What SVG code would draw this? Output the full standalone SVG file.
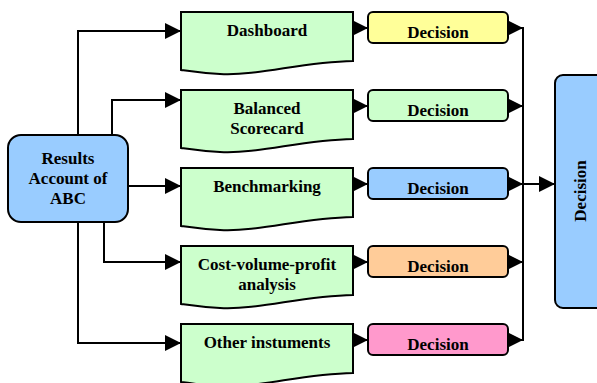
<svg xmlns="http://www.w3.org/2000/svg" width="597" height="383" viewBox="0 0 597 383">
<defs>
<marker id="ah" viewBox="0 0 16 16" refX="16" refY="8" markerWidth="16" markerHeight="16" markerUnits="userSpaceOnUse" orient="auto">
<path d="M0,0 L16,8 L0,16 Z" fill="#000"/>
</marker>
<style>
.doc{fill:#ccffcc;stroke:#000;stroke-width:2}
.box{stroke:#000;stroke-width:2}
.t{font-family:"Liberation Serif","Times New Roman",serif;font-weight:bold;font-size:17px;fill:#000;text-anchor:middle}
.td{font-family:"Liberation Serif","Times New Roman",serif;font-weight:bold;font-size:17px;fill:#000;text-anchor:middle}
.c{fill:none;stroke:#000;stroke-width:2}
</style>
</defs>
<rect width="597" height="383" fill="#fff"/>
<g id="connectors">
<path class="c" d="M78,135 V31 H181" marker-end="url(#ah)"/>
<path class="c" d="M112,135 V100 H181" marker-end="url(#ah)"/>
<path class="c" d="M128,186 H181" marker-end="url(#ah)"/>
<path class="c" d="M104,222 V262 H181" marker-end="url(#ah)"/>
<path class="c" d="M78,222 V343 H181" marker-end="url(#ah)"/>
<path class="c" d="M353,28 H368" marker-end="url(#ah)"/>
<path class="c" d="M353,106 H368" marker-end="url(#ah)"/>
<path class="c" d="M353,184 H368" marker-end="url(#ah)"/>
<path class="c" d="M353,262 H368" marker-end="url(#ah)"/>
<path class="c" d="M353,340 H368" marker-end="url(#ah)"/>
<path class="c" d="M508,28 H523" marker-end="url(#ah)"/>
<path class="c" d="M508,106 H523" marker-end="url(#ah)"/>
<path class="c" d="M508,184 H523" marker-end="url(#ah)"/>
<path class="c" d="M508,262 H523" marker-end="url(#ah)"/>
<path class="c" d="M508,340 H523" marker-end="url(#ah)"/>
<path class="c" d="M523,27 V341"/>
<path class="c" d="M523,184 H555" marker-end="url(#ah)"/>
</g>
<g id="results">
<rect class="box" x="8" y="135" width="120" height="87" rx="13" fill="#99ccff"/>
<text class="t" x="68" y="164">Results</text>
<text class="t" x="68" y="184">Account of</text>
<text class="t" x="68" y="204">ABC</text>
</g>
<g id="dashboard">
<path class="doc" d="M181,12 H353 V61 C300,62 260,76 220,74 C200,73 188,71 181,70 Z"/>
<text class="t" x="267" y="36">Dashboard</text>
</g>
<g id="balanced">
<path class="doc" d="M181,90 H353 V139 C300,140 260,154 220,152 C200,151 188,149 181,148 Z"/>
<text class="t" x="267" y="114">Balanced</text>
<text class="t" x="267" y="134">Scorecard</text>
</g>
<g id="benchmarking">
<path class="doc" d="M181,168 H353 V217 C300,218 260,232 220,230 C200,229 188,227 181,226 Z"/>
<text class="t" x="267" y="192">Benchmarking</text>
</g>
<g id="cvp">
<path class="doc" d="M181,246 H353 V295 C300,296 260,310 220,308 C200,307 188,305 181,304 Z"/>
<text class="t" x="267" y="270">Cost-volume-profit</text>
<text class="t" x="267" y="290">analysis</text>
</g>
<g id="other">
<path class="doc" d="M181,324 H353 V373 C300,374 260,388 220,386 C200,385 188,383 181,382 Z"/>
<text class="t" x="267" y="348">Other instuments</text>
</g>
<g id="decision1">
<rect class="box" x="368" y="12" width="140" height="31" rx="5" fill="#ffff99"/>
<text class="td" x="438" y="38">Decision</text>
</g>
<g id="decision2">
<rect class="box" x="368" y="90" width="140" height="31" rx="5" fill="#ccffcc"/>
<text class="td" x="438" y="116">Decision</text>
</g>
<g id="decision3">
<rect class="box" x="368" y="168" width="140" height="31" rx="5" fill="#99ccff"/>
<text class="td" x="438" y="194">Decision</text>
</g>
<g id="decision4">
<rect class="box" x="368" y="246" width="140" height="31" rx="5" fill="#ffcc99"/>
<text class="td" x="438" y="272">Decision</text>
</g>
<g id="decision5">
<rect class="box" x="368" y="324" width="140" height="31" rx="5" fill="#ff99cc"/>
<text class="td" x="438" y="350">Decision</text>
</g>
<g id="final">
<rect class="box" x="555" y="75" width="60" height="233" rx="8" fill="#99ccff"/>
<text class="td" transform="translate(586,191) rotate(-90)">Decision</text>
</g>
</svg>
